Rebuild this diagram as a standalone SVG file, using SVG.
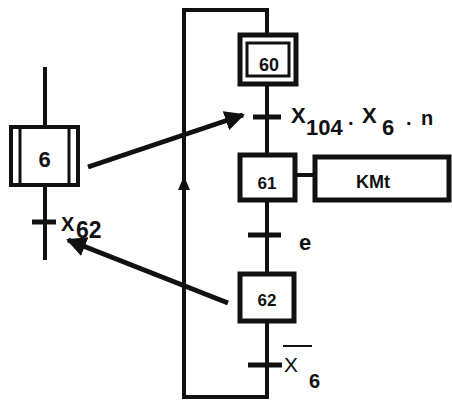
<svg xmlns="http://www.w3.org/2000/svg" width="452" height="402" viewBox="0 0 452 402">
<defs>
<style>
.ln{stroke:#111;stroke-width:4;fill:none}
.bx{stroke:#111;stroke-width:5;fill:#fff}
.tk{stroke:#111;stroke-width:5}
.t{font-family:"Liberation Sans",Arial,sans-serif;font-weight:bold;fill:#111}
</style>
<marker id="ah" viewBox="0 0 10 10" refX="9" refY="5" markerWidth="4" markerHeight="4" orient="auto" markerUnits="strokeWidth">
<path d="M0,0 L10,5 L0,10 Z" fill="#111"/>
</marker>
</defs>
<rect width="452" height="402" fill="#fff"/>
<g id="connectors">
<path class="ln" d="M45,67 V260"/>
<path class="ln" d="M267,86 V153 M267,202 V272 M267,323 V397 H184 V10 H267 V33"/>
<path class="ln" d="M297,175 H313"/>
<path d="M184,176 L178,190 L190,190 Z" fill="#111"/>
<line x1="88" y1="167" x2="243" y2="115" stroke="#111" stroke-width="5" marker-end="url(#ah)"/>
<line x1="228" y1="303" x2="68" y2="240" stroke="#111" stroke-width="5" marker-end="url(#ah)"/>
</g>
<g id="t62_6">
<line class="tk" x1="32" y1="222" x2="56" y2="222"/>
<text class="t" x="61" y="231" font-size="20">X</text>
<text class="t" x="76" y="238" font-size="23">62</text>
</g>
<g id="step6">
<rect x="11" y="127" width="67" height="58" fill="#fff" stroke="#111" stroke-width="4"/>
<line x1="20" y1="127" x2="20" y2="185" stroke="#111" stroke-width="3"/>
<line x1="69" y1="127" x2="69" y2="185" stroke="#111" stroke-width="3"/>
<text class="t" x="44.5" y="167" font-size="22" text-anchor="middle">6</text>
</g>
<g id="step60">
<rect class="bx" x="240" y="35" width="56" height="49"/>
<rect x="247" y="43" width="42" height="33" fill="none" stroke="#111" stroke-width="3"/>
<text class="t" x="269" y="71" font-size="18" text-anchor="middle">60</text>
</g>
<g id="t60_61">
<line class="tk" x1="253" y1="117" x2="281" y2="117"/>
<text class="t" x="291" y="123" font-size="22">X</text>
<text class="t" x="306" y="135" font-size="22">104</text>
<text class="t" x="348" y="125" font-size="20">.</text>
<text class="t" x="362" y="123" font-size="22">X</text>
<text class="t" x="382" y="135" font-size="22">6</text>
<text class="t" x="406" y="125" font-size="20">.</text>
<text class="t" x="421" y="125" font-size="20">n</text>
</g>
<g id="step61">
<rect class="bx" x="240" y="155" width="55" height="45"/>
<text class="t" x="267" y="189" font-size="17" text-anchor="middle">61</text>
</g>
<g id="action61">
<rect class="bx" x="315" y="157" width="134" height="43"/>
<text class="t" x="373" y="188" font-size="18" text-anchor="middle">KMt</text>
</g>
<g id="t61_62">
<line class="tk" x1="248" y1="235" x2="281" y2="235"/>
<text class="t" x="299" y="250" font-size="22">e</text>
</g>
<g id="step62">
<rect class="bx" x="240" y="274" width="54" height="47"/>
<text class="t" x="267" y="306" font-size="17" text-anchor="middle">62</text>
</g>
<g id="t62_60">
<line class="tk" x1="248" y1="365" x2="282" y2="365"/>
<line x1="283" y1="346" x2="312" y2="346" stroke="#111" stroke-width="2"/>
<text x="284" y="372" font-size="21" font-family="Liberation Sans,Arial,sans-serif" fill="#111">X</text>
<text class="t" x="309" y="388" font-size="20">6</text>
</g>
</svg>
